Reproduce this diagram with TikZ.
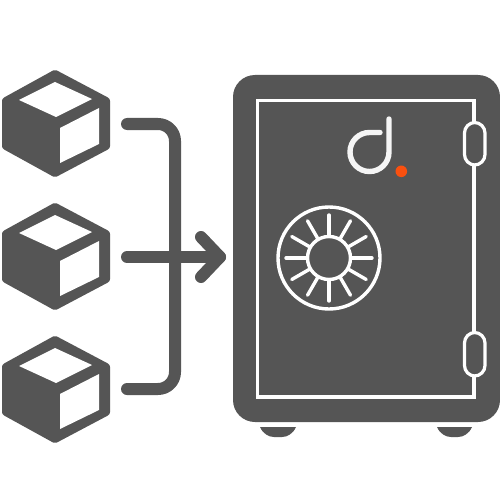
\documentclass[tikz,border=0pt]{standalone}
\usetikzlibrary{calc}
\definecolor{safegray}{HTML}{555555}
\definecolor{dotorange}{HTML}{F9500F}
\tikzset{
  x=1pt,y=-1pt,
  conn/.style={draw=safegray,line width=12pt,line cap=round,line join=round},
  wline/.style={draw=white,line width=3.4pt},
  spoke/.style={draw=white,line width=3.4pt,line cap=round},
  hinge/.style={draw=white,fill=safegray,line width=3.2pt,rounded corners=10.5pt}
}
\begin{document}
\begin{tikzpicture}
\useasboundingbox (0,0) rectangle (500,500);
\fill[white] (0,0) rectangle (500,500);
% cubes
\foreach \dy in {0,133,266}{
  \begin{scope}[yshift=-\dy pt]
    \fill[safegray,draw=safegray,line width=8pt,line join=round]
      (55,74) -- (106,101) -- (106,146) -- (55,173) -- (6,146) -- (6,101) -- cycle;
    \fill[white] (19,100) -- (55,82) -- (92,99) -- (56,117) -- cycle;
    \fill[white] (60,128) -- (99,108) -- (99,144) -- (60,163) -- cycle;
  \end{scope}
}
% connectors
\coordinate (top) at (127,124);
\coordinate (bot) at (127,389);
\coordinate (mid) at (127,257);
\coordinate (tip) at (220,257);
\coordinate (a1) at (201,237);
\coordinate (a2) at (201,277);
\draw[conn,rounded corners=17pt] (top) -- (175,124) -- (175,389) -- (bot);
\draw[conn] (mid) -- (tip);
\draw[conn] (a1) -- (tip) -- (a2);
% feet
\fill[safegray] (260,427) -- (296,427) .. controls (293,434) and (287,437) .. (282,437) -- (274,437) .. controls (269,437) and (263,434) .. (260,427) -- cycle;
\fill[safegray] (437,427) -- (472,427) .. controls (469,434) and (463,437) .. (458,437) -- (451,437) .. controls (446,437) and (440,434) .. (437,427) -- cycle;
% body
\fill[safegray,rounded corners=22pt] (233,75) rectangle (500,422);
% door
\draw[wline] (257.5,100.5) rectangle (474,397);
% hinges
\draw[hinge] (464.5,122.5) rectangle (485,165);
\draw[hinge] (464.5,332.5) rectangle (485,376);
% dial
\draw[wline] (329,258) circle[radius=51];
\draw[wline] (329,258) circle[radius=21.5];
\foreach \a in {0,30,...,330}{
  \draw[spoke] ($(329,258)+(\a:23)$) -- ($(329,258)+(\a:43)$);
}
% logo
\draw[draw=white!96!black,line width=5.4pt,line cap=round] (389,119) -- (389,152)
  .. controls (389,162.8) and (380.3,171.5) .. (369.5,171.5)
  .. controls (358.7,171.5) and (350,162.8) .. (350,152)
  .. controls (350,141.2) and (358.7,132.5) .. (369.5,132.5)
  -- (380,132.5);
\fill[dotorange] (401.3,171.3) circle[radius=5.8];
\end{tikzpicture}
\end{document}
